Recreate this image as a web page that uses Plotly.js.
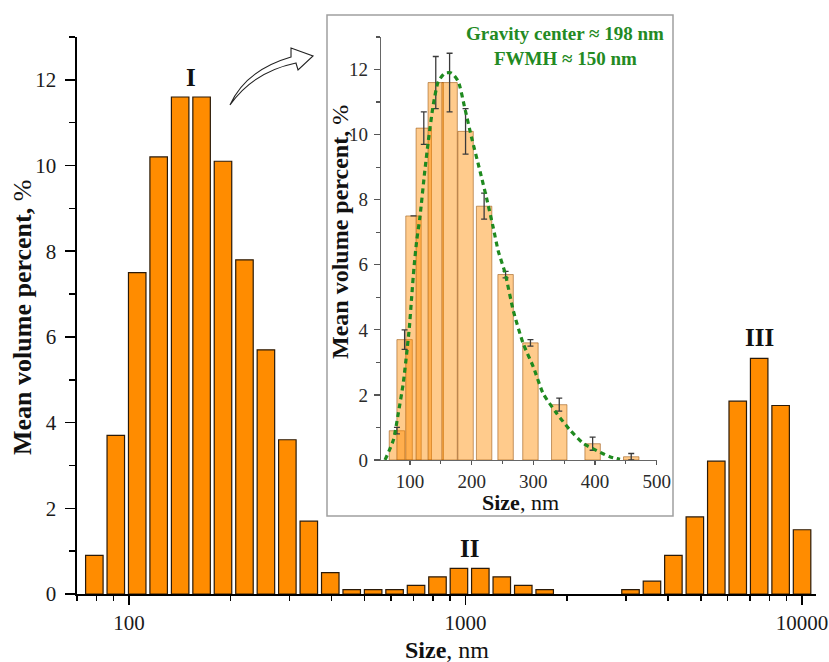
<!DOCTYPE html>
<html>
<head>
<meta charset="utf-8">
<script src="https://cdn.plot.ly/plotly-3.0.1.min.js"></script>
<style>html,body{margin:0;padding:0;background:#fff;}#chart{width:829px;height:662px;}</style>
</head>
<body>
<div id="chart"></div>
<script>
// ---- data ----
var sizes = [78.82, 91.28, 105.7, 122.4, 141.8, 164.2, 190.1, 220.2, 255.0, 295.3, 342.0, 396.1, 458.7, 531.2, 615.1, 712.4, 825.0, 955.4, 1106, 1281, 1484, 1718, 3091, 3580, 4145, 4801, 5560, 6439, 7456, 8635, 10000];
var volumes = [0.9, 3.7, 7.5, 10.2, 11.6, 11.6, 10.1, 7.8, 5.7, 3.6, 1.7, 0.5, 0.1, 0.1, 0.1, 0.2, 0.4, 0.6, 0.6, 0.4, 0.2, 0.1, 0.1, 0.3, 0.9, 1.8, 3.1, 4.5, 5.5, 4.4, 1.5];

var insetSizes = [78.82, 91.28, 105.7, 122.4, 141.8, 164.2, 190.1, 220.2, 255.0, 295.3, 342.0, 396.1, 458.7];
var insetVolumes = [0.9, 3.7, 7.5, 10.2, 11.6, 11.6, 10.1, 7.8, 5.7, 3.6, 1.7, 0.5, 0.1];
var insetErrors = [0.1, 0.3, null, 0.5, 0.8, 0.9, 0.7, 0.4, 0.1, 0.1, 0.2, 0.2, 0.1];

var fitSizes = [59.5, 73, 81, 89, 94.6, 99, 102.7, 106.5, 110.8, 116, 124, 129.7, 137.8, 145.9, 156.8, 167.6, 178.3, 189, 200, 213.5, 224, 235, 243, 254, 267.5, 283.7, 300, 316, 338, 359.4, 381, 402.7, 424, 440.5];
var fitVolumes = [0, 0.61, 1.43, 2.35, 3.27, 4.08, 5.0, 5.92, 6.73, 7.45, 8.88, 9.8, 10.92, 11.63, 11.89, 11.89, 11.63, 10.8, 9.9, 8.88, 8.06, 7.14, 6.43, 5.76, 4.59, 3.57, 2.86, 2.04, 1.43, 0.92, 0.51, 0.29, 0.10, 0.02];

var mainMajorTicks = [100, 1000, 10000];
var mainMajorLabels = ['100', '1000', '10000'];
var mainMinorTicks = [70, 80, 90, 200, 300, 400, 500, 600, 700, 800, 900, 2000, 3000, 4000, 5000, 6000, 7000, 8000, 9000];

var peakLabels = ['I', 'II', 'III'];
var notes = ['Gravity center \u2248 198 nm', 'FWMH \u2248 150 nm'];

// ---- geometry helpers (pixel -> paper) ----
var L = 77, R = 816, T = 37, B = 594;
function px(x){ return (x - L) / (R - L); }
function py(y){ return (B - y) / (B - T); }

// bar widths symmetric in log space
var halfDec = 0.026;
var barWidths = sizes.map(function(s){ return s * (Math.pow(10, halfDec) - Math.pow(10, -halfDec)); });
var barOffsets = sizes.map(function(s){ return s * Math.pow(10, -halfDec) - s; });

var serif = 'Liberation Serif, Times New Roman, serif';

var traces = [
  {
    type: 'bar', x: sizes, y: volumes, width: barWidths, offset: barOffsets,
    marker: {color: '#FF8C00', line: {color: '#2b1a08', width: 1.2}},
    xaxis: 'x', yaxis: 'y', hoverinfo: 'x+y'
  },
  {
    type: 'bar', x: insetSizes, y: insetVolumes, width: 25,
    marker: {color: 'rgba(255,140,0,0.45)', line: {color: 'rgba(150,80,10,0.55)', width: 1}},
    error_y: {type: 'data', array: insetErrors, visible: true, color: '#3a3a3a', thickness: 1.3, width: 3},
    xaxis: 'x2', yaxis: 'y2'
  },
  {
    type: 'scatter', mode: 'lines', x: fitSizes, y: fitVolumes,
    line: {color: '#1f8a1f', width: 3.2, dash: '5px,4px', shape: 'spline', smoothing: 0.6},
    xaxis: 'x2', yaxis: 'y2'
  }
];

function arrowPath(){
  var pts = [
    ['M', 230, 105],
    ['Q', 246, 70, 291, 57],
    ['L', 291, 48],
    ['L', 313, 56],
    ['L', 298, 70],
    ['L', 296, 63],
    ['Q', 253, 72, 230, 105]
  ];
  var s = '';
  pts.forEach(function(p){
    s += p[0];
    for (var i = 1; i < p.length; i += 2) {
      s += ' ' + px(p[i]).toFixed(4) + ',' + py(p[i+1]).toFixed(4);
    }
    s += ' ';
  });
  return s + 'Z';
}

var layout = {
  width: 829, height: 662,
  margin: {l: L, r: 829 - R, t: T, b: 662 - B, pad: 0},
  paper_bgcolor: '#ffffff', plot_bgcolor: 'rgba(0,0,0,0)',
  showlegend: false,
  font: {family: serif, color: '#1a1a1a'},
  xaxis: {
    type: 'log', range: [Math.log10(70), Math.log10(11000)], domain: [0, 1],
    showline: true, linecolor: '#000', linewidth: 1.6, showgrid: false, zeroline: false,
    ticks: 'outside', ticklen: 9, tickwidth: 1.5, tickcolor: '#000',
    tickmode: 'array', tickvals: mainMajorTicks, ticktext: mainMajorLabels,
    ticklabelstandoff: 0,
    tickfont: {family: serif, size: 21, color: '#1a1a1a'},
    minor: {tickmode: 'array', tickvals: mainMinorTicks, ticks: 'outside', ticklen: 5, tickwidth: 1.5, tickcolor: '#000', showgrid: false},
    anchor: 'y', fixedrange: true
  },
  yaxis: {
    range: [0, 13], domain: [0, 1],
    showline: true, linecolor: '#000', linewidth: 1.6, showgrid: false, zeroline: false,
    ticks: 'outside', ticklen: 10, tickwidth: 1.5, tickcolor: '#000',
    tick0: 0, dtick: 2, ticklabelstandoff: 5,
    tickfont: {family: serif, size: 21, color: '#1a1a1a'},
    minor: {dtick: 1, ticks: 'outside', ticklen: 6, tickwidth: 1.5, tickcolor: '#000', showgrid: false},
    anchor: 'x', fixedrange: true
  },
  xaxis2: {
    range: [53, 500], domain: [px(381), px(656.7)], anchor: 'y2',
    showline: true, linecolor: '#666', linewidth: 1.3, showgrid: false, zeroline: false,
    ticks: 'outside', ticklen: 4, tickwidth: 1.2, tickcolor: '#555',
    tick0: 0, dtick: 100, ticklabelstandoff: 0,
    tickfont: {family: serif, size: 19, color: '#2a2a2a'},
    minor: {dtick: 50, tick0: 0, ticks: 'outside', ticklen: 3, tickwidth: 1.2, tickcolor: '#555', showgrid: false},
    fixedrange: true
  },
  yaxis2: {
    range: [0, 13], domain: [py(460), py(37)], anchor: 'x2',
    showline: true, linecolor: '#666', linewidth: 1.3, showgrid: false, zeroline: false,
    ticks: 'outside', ticklen: 6, tickwidth: 1.2, tickcolor: '#555',
    tick0: 0, dtick: 2, ticklabelstandoff: 2,
    tickfont: {family: serif, size: 19, color: '#2a2a2a'},
    minor: {dtick: 1, ticks: 'outside', ticklen: 3.5, tickwidth: 1.2, tickcolor: '#555', showgrid: false},
    fixedrange: true
  },
  shapes: [
    {type: 'rect', xref: 'paper', yref: 'paper', x0: px(327), x1: px(673), y0: py(516), y1: py(15),
     fillcolor: '#ffffff', line: {color: '#a0a0a0', width: 1.5}, layer: 'below'},
    {type: 'path', xref: 'paper', yref: 'paper', path: arrowPath(),
     fillcolor: '#ffffff', line: {color: '#222', width: 1.1}, layer: 'above'}
  ],
  annotations: [
    {xref: 'paper', yref: 'paper', x: px(22), y: py(318), textangle: -90, xanchor: 'center', yanchor: 'middle', showarrow: false,
     text: '<b>Mean volume percent,</b> %', font: {family: serif, size: 26, color: '#111'}},
    {xref: 'paper', yref: 'paper', x: px(447), y: py(650), xanchor: 'center', yanchor: 'middle', showarrow: false,
     text: '<b>Size</b>, nm', font: {family: serif, size: 24, color: '#111'}},
    {xref: 'paper', yref: 'paper', x: px(340), y: py(232), textangle: -90, xanchor: 'center', yanchor: 'middle', showarrow: false,
     text: '<b>Mean volume percent,</b> %', font: {family: serif, size: 24, color: '#111'}},
    {xref: 'paper', yref: 'paper', x: px(520), y: py(502), xanchor: 'center', yanchor: 'middle', showarrow: false,
     text: '<b>Size</b>, nm', font: {family: serif, size: 22, color: '#111'}},
    {xref: 'x', yref: 'y', x: Math.log10(152.6), y: 12.05, xanchor: 'center', yanchor: 'middle', showarrow: false,
     text: '<b>' + peakLabels[0] + '</b>', font: {family: serif, size: 25, color: '#111'}},
    {xref: 'x', yref: 'y', x: Math.log10(1028), y: 1.07, xanchor: 'center', yanchor: 'middle', showarrow: false,
     text: '<b>' + peakLabels[1] + '</b>', font: {family: serif, size: 25, color: '#111'}},
    {xref: 'x', yref: 'y', x: Math.log10(7456), y: 5.98, xanchor: 'center', yanchor: 'middle', showarrow: false,
     text: '<b>' + peakLabels[2] + '</b>', font: {family: serif, size: 25, color: '#111'}},
    {xref: 'paper', yref: 'paper', x: px(565), y: py(33), xanchor: 'center', yanchor: 'middle', showarrow: false,
     text: '<b>' + notes[0] + '</b>', font: {family: serif, size: 19, color: '#238a23'}},
    {xref: 'paper', yref: 'paper', x: px(565), y: py(58), xanchor: 'center', yanchor: 'middle', showarrow: false,
     text: '<b>' + notes[1] + '</b>', font: {family: serif, size: 19, color: '#238a23'}}
  ]
};

Plotly.newPlot('chart', traces, layout, {displayModeBar: false, staticPlot: true});
</script>
</body>
</html>
